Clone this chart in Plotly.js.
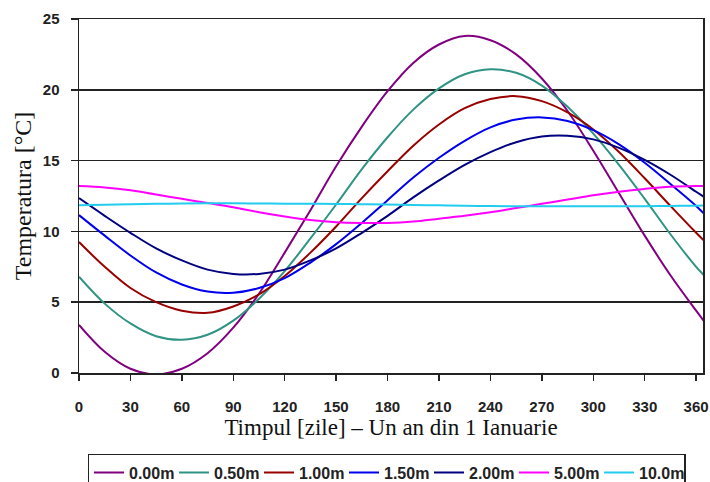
<!DOCTYPE html>
<html>
<head>
<meta charset="utf-8">
<script src="https://cdn.plot.ly/plotly-3.0.1.min.js"></script>
<style>
  html, body { margin: 0; padding: 0; background: #ffffff; }
  #chart { width: 710px; height: 482px; }
</style>
</head>
<body>
<div id="chart"></div>
<script>
// Day of year (x values)
const days = [0, 15, 30, 45, 60, 75, 90, 105, 120, 135, 150, 165, 180, 195, 210, 225, 240, 255, 270, 285, 300, 315, 330, 345, 360, 365];

// Temperature [°C], per depth
const t000 = [3.4, 1.5, 0.3, -0.1, 0.3, 1.4, 3.2, 5.6, 8.5, 11.5, 14.6, 17.4, 19.9, 21.9, 23.2, 23.8, 23.5, 22.5, 20.8, 18.5, 15.7, 12.7, 9.7, 6.9, 4.4, 3.6];
const t050 = [6.8, 4.9, 3.5, 2.6, 2.35, 2.7, 3.7, 5.25, 7.2, 9.5, 11.9, 14.4, 16.65, 18.6, 20.1, 21.1, 21.45, 21.2, 20.3, 18.8, 16.9, 14.7, 12.3, 9.8, 7.5, 6.85];
const t100 = [9.25, 7.5, 6.0, 5.0, 4.4, 4.25, 4.7, 5.55, 6.85, 8.5, 10.35, 12.35, 14.25, 16.05, 17.55, 18.7, 19.35, 19.55, 19.2, 18.4, 17.2, 15.6, 13.75, 11.8, 9.9, 9.3];
const t150 = [11.15, 9.7, 8.3, 7.1, 6.25, 5.75, 5.67, 6.0, 6.7, 7.8, 9.1, 10.6, 12.2, 13.8, 15.2, 16.4, 17.35, 17.9, 18.05, 17.8, 17.15, 16.15, 14.85, 13.35, 11.8, 11.2];
const t200 = [12.35, 11.1, 9.9, 8.8, 7.95, 7.3, 7.0, 7.0, 7.3, 7.95, 8.8, 9.9, 11.1, 12.4, 13.6, 14.7, 15.6, 16.3, 16.7, 16.75, 16.5, 15.9, 15.05, 14.0, 12.8, 12.4];
const t500 = [13.2, 13.1, 12.9, 12.6, 12.3, 12.0, 11.7, 11.35, 11.05, 10.8, 10.65, 10.6, 10.6, 10.7, 10.9, 11.1, 11.35, 11.65, 11.95, 12.25, 12.55, 12.8, 13.0, 13.15, 13.2, 13.2];
const t1000 = [11.85, 11.88, 11.92, 11.95, 11.97, 11.98, 11.98, 11.97, 11.96, 11.95, 11.94, 11.92, 11.9, 11.87, 11.84, 11.81, 11.79, 11.78, 11.77, 11.77, 11.77, 11.77, 11.78, 11.8, 11.82, 11.83];

const seriesNames = ["0.00m", "0.50m", "1.00m", "1.50m", "2.00m", "5.00m", "10.0m"];
const seriesValues = [t000, t050, t100, t150, t200, t500, t1000];
const seriesColors = ["#800080", "#2f9484", "#990000", "#0000ee", "#000080", "#ff00ff", "#22ccee"];

const xTickVals = [0, 30, 60, 90, 120, 150, 180, 210, 240, 270, 300, 330, 360];
const yTickVals = [0, 5, 10, 15, 20, 25];

const traces = seriesNames.map((name, i) => ({
  type: "scatter",
  mode: "lines",
  name: name,
  x: days,
  y: seriesValues[i],
  line: { color: seriesColors[i], width: 2, shape: "spline", smoothing: 1 }
}));

const tickFont = { family: "Liberation Sans, Arial, sans-serif", size: 15, color: "#222222", weight: "bold" };

const layout = {
  width: 710,
  height: 482,
  margin: { l: 79, r: 7, t: 19, b: 109, pad: 0, autoexpand: false },
  paper_bgcolor: "#ffffff",
  plot_bgcolor: "#ffffff",
  showlegend: true,
  xaxis: {
    range: [0, 364],
    tickvals: xTickVals,
    ticks: "outside",
    ticklen: 6,
    tickwidth: 1.5,
    tickcolor: "#222222",
    ticklabelstandoff: 13,
    tickfont: tickFont,
    showgrid: false,
    zeroline: false,
    showline: true,
    linecolor: "#222222",
    linewidth: 1.5,
    mirror: true,
    automargin: false,
    title: { text: "Timpul [zile] – Un an din 1 Ianuarie", font: { family: "Liberation Serif, Times New Roman, serif", size: 23, color: "#111111" }, standoff: 5 }
  },
  yaxis: {
    range: [0, 25],
    tickvals: yTickVals,
    ticks: "outside",
    ticklen: 7,
    tickwidth: 1.5,
    tickcolor: "#222222",
    ticklabelstandoff: 8,
    tickfont: tickFont,
    showgrid: true,
    gridcolor: "#222222",
    gridwidth: 1.5,
    zeroline: false,
    showline: true,
    linecolor: "#222222",
    linewidth: 1.5,
    mirror: true,
    automargin: false,
    title: { text: "Temperatura [°C]", font: { family: "Liberation Serif, Times New Roman, serif", size: 24, color: "#111111" }, standoff: 4 }
  },
  legend: {
    orientation: "h",
    x: 0.4928,
    xanchor: "center",
    y: -0.2288,
    yanchor: "top",
    bordercolor: "#222222",
    borderwidth: 1.5,
    bgcolor: "#ffffff",
    font: { family: "Liberation Sans, Arial, sans-serif", size: 16, color: "#222222", weight: "bold" },
    itemwidth: 30,
    entrywidth: 40,
    entrywidthmode: "pixels",
    tracegroupgap: 0
  }
};

Plotly.newPlot("chart", traces, layout, { displayModeBar: false, staticPlot: true });
</script>
</body>
</html>
